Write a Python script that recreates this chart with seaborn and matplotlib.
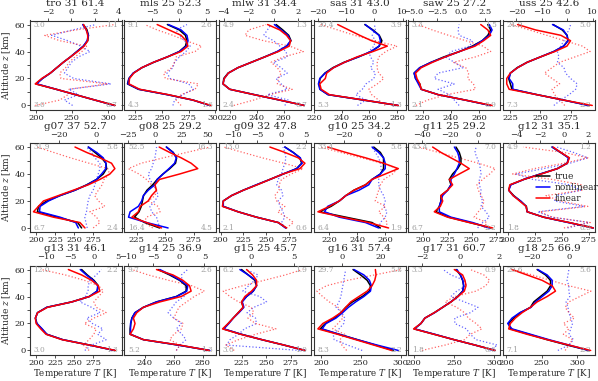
import matplotlib
matplotlib.use("Agg")
import matplotlib.pyplot as plt
import seaborn as sns
import pandas as pd

# altitude levels of every profile [km]
z_km = [0, 4, 8, 12, 16, 20, 24, 28, 32, 36, 40, 44, 48, 52, 56, 60]

# temperature profiles [K] (true / nonlinear / linear) and top-axis differences
tro_true = [309.7, 282, 255, 228, 200, 209, 220, 229, 238, 248, 257, 266, 272, 273, 271, 266]
tro_nl = [309, 282, 255, 228, 201, 209, 220, 229, 238, 248, 257, 266, 271, 273, 270, 265]
tro_lin = [310, 282, 255, 228, 199, 208, 220, 229, 238, 248, 258, 267, 272, 272, 270, 266]
tro_dnl = [0.1, -0.6, 0.6, -0.2, 3.4, 0.2, -0.6, -0.3, 0.0, 0.6, 1.6, 0.8, -0.3, -1.7, 0.1, 2.1]
tro_dlin = [-3.1, -1.0, -0.3, -0.2, 3.1, -0.9, -1.0, -0.5, -0.2, 0.3, 0.9, 1.3, -1.0, -2.3, 0.4, 3.7]

mls_true = [295.2, 279.2, 255.1, 227.9, 217.6, 218.9, 223.1, 231.1, 242.3, 255.1, 266.3, 272.1, 273.4, 272.1, 266.3, 255.1]
mls_nl = [295, 279, 255, 228, 218, 219, 223, 231, 242, 255, 266.5, 273, 274.5, 273.5, 268, 256]
mls_lin = [296, 279, 256, 229, 219, 219.5, 223.5, 231, 242, 255, 268, 274.4, 272.8, 268, 256.7, 245.5]
mls_dnl = [-1.2, -0.9, 0.6, 2.6, 1.7, -1.7, -2.3, -1.2, -0.9, 0, 1.2, 2.0, 0.9, 0, -0.6, 1.4]
mls_dlin = [0.3, -0.6, 0.3, 2.9, 3.5, -2.6, -2.9, -1.4, -0.9, -0.6, 2.9, 4.1, 1.2, -1.2, -4.1, -6.4]

mlw_true = [275.1, 256.8, 238.4, 220.0, 215.1, 215.6, 218.8, 226.1, 235.9, 245.7, 255.5, 262.2, 265.3, 263.6, 259.2, 254.3]
mlw_nl = [275, 257, 238, 220, 215, 216, 219, 226, 236, 246, 255, 262, 265, 263, 258, 253]
mlw_lin = [275, 257, 238, 220, 215, 216, 219, 226, 236, 246, 256, 264, 265, 262, 257, 248]
mlw_dnl = [0.9, 1.2, -0.5, 1.1, 0.6, 0.2, 1.1, 0.6, 0.0, 1.1, 1.0, 0.5, 0.0, -0.8, -0.5, -0.2]
mlw_dlin = [-3.2, -1.6, -0.3, 1.5, 0.3, 0.4, 0.6, 0.3, -0.2, 0.8, 2.4, 1.3, -0.8, -2.3, -2.0, -0.6]

sas_true = [280.7, 255.6, 230.0, 224.2, 223.5, 224.2, 227.7, 233.5, 241.6, 252.1, 261.4, 267.2, 269.1, 267.2, 262.6, 256.7]
sas_nl = [281, 256, 230, 224, 223, 224, 228, 234, 242, 252, 261, 267, 268, 267, 262, 257]
sas_lin = [281, 256, 231, 225, 224, 228, 229, 234, 242, 251, 262.6, 273, 261.6, 253, 245, 237]
sas_dnl = [-6, -3, -6.6, -4.3, -3, -0.2, 0.3, -1.4, -0.2, -1.4, -2, -0.2, 0.3, -0.8, 0.3, 0]
sas_dlin = [3.8, 1.5, -1, -2, 1, 3.3, 1.5, 0.9, 1, 1.5, 4, 8, 0, -7, -13, -19]

saw_true = [268, 250, 231, 219, 218, 215, 214, 218, 226, 235, 246, 255, 262, 266, 268, 266]
saw_nl = [268, 250, 231, 219, 217, 215, 214, 218, 226, 236, 246, 256, 262, 267, 269, 267]
saw_lin = [269, 250, 231, 219, 218, 216, 215, 219, 227, 236, 246, 257, 263, 268, 266, 261]
saw_dnl = [-0.2, -0.7, -1.2, -2.4, -0.7, -2.8, -2.4, 0.2, -0.7, -1.6, -1.0, 0.9, 1.2, -0.2, -0.3, -0.2]
saw_dlin = [-4.7, -3.5, -1.5, 1.5, 1.3, 0.7, 0.8, 0.5, -0.8, 1.5, 3.1, 2.3, 0.5, -1.3, -3, -4.5]

uss_true = [290.3, 269.4, 247.2, 226.4, 225, 223.6, 225, 230.6, 238.9, 250, 261.1, 269.4, 272.8, 272.2, 268.1, 260.6]
uss_nl = [290, 269, 247, 227, 227, 224, 225, 231, 239, 250, 261, 269, 273, 272, 269, 260]
uss_lin = [293, 269, 247, 224, 222, 222, 225, 231, 239, 250, 262, 272, 275, 267, 246, 231]
uss_dnl = [-5.3, -2.6, 0.7, 3.3, 3.9, 1.3, -0.7, -1.3, -3.9, -3.3, -3.9, -2.6, -1.3, -0.7, 0.7, 1.3]
uss_dlin = [-1, -3, -5, -6, -3, -6, -9, -6, -3, 3, 9, 6, -1, -8, -15, -22]

g07_true = [259.8, 254.6, 228, 201.7, 203.1, 214.0, 231.4, 251.1, 266.4, 279.5, 288.2, 292.6, 291.7, 286.0, 277.3, 268.6]
g07_nl = [255.5, 252, 231.4, 204.4, 205.2, 216.2, 231.4, 251.1, 267.2, 279.5, 286.0, 291.7, 291.7, 288.2, 279.5, 268.6]
g07_lin = [264.2, 257.6, 222.7, 196.5, 203.1, 209.6, 229.3, 248.9, 268.6, 283.8, 296.9, 303.5, 299.1, 283.8, 266.4, 251.1]
g07_dnl = [-5, -5.7, -6.3, -5.4, -5, -4.5, -3.6, -1.8, -0.9, 0, 0.9, 1.8, 1.8, -0.9, -2.7, -5.4]
g07_dlin = [-1.8, 1.8, 0, -3.6, 4.5, 1, -1, 1, 3, 4, 7, 6, -4, -14, -23, -32]

g08_true = [245, 232, 223, 227, 229, 230, 231, 234, 239, 243, 248, 254, 259, 260, 257, 251]
g08_nl = [252.5, 233.7, 217.8, 219.2, 226.4, 229.3, 230.8, 235.1, 240.9, 242.9, 248.1, 253.3, 258.2, 259.7, 256.8, 251.0]
g08_lin = [246.7, 233.7, 220.7, 226.4, 228, 235, 238, 242.3, 241, 245, 262.6, 278.5, 272.7, 264, 253.9, 244.7]
g08_dnl = [4.7, 3.1, 1.6, -3.1, -4.7, 0, 3.1, 1.6, -1.6, -4.7, -6.3, -3.1, -1.6, 0, 0.9, 1.6]
g08_dlin = [-2, -10, -8, 5, 3, -6, 0, 2, -3, -8, -15, -25, -13, 8, 30, 52]

g09_true = [271.3, 262.9, 239.3, 219.3, 202.9, 202.9, 212.0, 224.7, 239.3, 253.8, 268.4, 282.9, 288.4, 286.5, 279.3, 270.2]
g09_nl = [271, 263, 239, 219, 203, 203, 212, 225, 239, 254, 268, 283, 289, 287, 279, 270]
g09_lin = [272, 263, 239, 219, 202, 203, 212, 225, 240, 254, 268, 286.5, 292, 284.7, 270.2, 253.8]
g09_dnl = [0.7, 0, 0.7, 0.3, -0.3, -0.7, 0.3, 0, -1, -0.7, 0, 0.3, 0.7, 0.9, 0.7, 0.3]
g09_dlin = [1, 2.5, 1, -0.8, 0.7, -1, -1.4, -0.5, -0.5, 0, 2, 4.5, 0.5, -4, -8, -12]

g10_true = [256.5, 250.6, 231.8, 212.9, 221.2, 227.1, 231.8, 237.6, 245.9, 250.6, 256.5, 258.8, 258.8, 258.8, 256.5, 251.8]
g10_nl = [255.3, 245.9, 227.1, 216.5, 218.8, 227.1, 231.8, 241.2, 248.2, 250.6, 256.5, 260.0, 260.0, 258.8, 255.3, 250.6]
g10_lin = [262.4, 248.2, 229.4, 211.8, 220, 227.1, 231.8, 237.6, 245.9, 250.6, 260, 269.4, 258.8, 245.9, 231.8, 218.8]
g10_dnl = [0, 1, 3.8, 4.8, 2.9, 3.8, 2.9, 1, 0, 0, 1, 1.5, 1, 0, -1.9, -3.8]
g10_dlin = [4, 5, 3, 0, 4, -2, -1, 0, 1, 3, 8, 11, 2, -10, -22, -34]

g11_true = [269.8, 248.1, 226.1, 213.1, 216.5, 218.2, 218.2, 225.1, 228.5, 226.8, 230.2, 235.4, 238.8, 238.8, 237.1, 233.7]
g11_nl = [268, 250.9, 228.5, 216.5, 216.5, 218.2, 219.9, 225.1, 228.5, 228.5, 232, 234.7, 237.1, 237.1, 235.4, 232]
g11_lin = [271.5, 247.4, 225, 211.3, 217.5, 220, 218, 225, 230.2, 226.8, 237, 247.4, 238.8, 228.5, 218.2, 209.6]
g11_dnl = [-0.5, 3.1, 7.8, 5.4, 1.9, 3.1, 1.4, 1.9, 0.7, 0.7, 1.9, 1.4, 0.7, -0.9, -2.4, -1.6]
g11_dlin = [4, 6, -3, 0, 3, 4, 2, 0, -1, 3, 8, 12, 0, -14, -28, -42]

g12_true = [279, 256.5, 233.3, 217.9, 217.3, 211.7, 205.6, 200.9, 202.5, 214.8, 230.2, 245.7, 254.9, 256.5, 248.8, 241]
g12_nl = [279, 256, 233, 218, 217, 212, 205, 201, 203, 215, 230, 246, 255, 256, 249, 241]
g12_lin = [279, 257, 233, 218, 217, 211, 205, 201, 202, 215, 231, 246, 255, 257, 249, 242]
g12_dnl = [0.3, 2.1, -1, -2.2, 1.7, -0.8, -0.6, 1.4, 0.5, -2.6, -4, -1.7, 0.5, 2, 0.8, -0.6]
g12_dlin = [0, 2.2, -1, -2, 2, -0.3, -1.5, 1.5, 1.5, -1, -4.3, -2.5, 0, 2, 0, -3.4]

g13_true = [303.5, 270.3, 234.9, 214, 207.4, 200.9, 199.1, 201.7, 214, 246.7, 269.9, 280.3, 281.7, 276, 267.2, 259.8]
g13_nl = [303, 270, 235, 214, 208, 201, 199, 202, 214, 247, 270, 280, 281, 275, 266, 258]
g13_lin = [304, 270, 234, 213, 206, 200, 199, 202, 215, 247, 270, 283.8, 281.7, 272.9, 259.8, 242.4]
g13_dnl = [-1.9, -0.5, 2.6, 0.8, 1.9, -0.3, -1.5, 1.3, -0.5, -2.9, -1.8, -1.2, -1.2, -0.8, 0.5, 1.6]
g13_dlin = [-1, -2.2, -1, 0, 0.5, -2, 0, 2.6, 0.5, 0, 1, 2, 1, -2, -6, -11]

g14_true = [284.6, 262.9, 238.9, 229.7, 229.7, 230.2, 230.9, 233.1, 238.9, 248, 261.7, 268.6, 268.6, 264, 257.1, 249.1]
g14_nl = [285, 263, 239, 230, 230, 230, 231, 233, 239, 248, 262, 269, 269.7, 264.5, 258, 250.3]
g14_lin = [284.6, 264, 238.9, 229.7, 232, 233.1, 232, 234.3, 238.9, 250.3, 265.1, 272, 270.9, 266.3, 259.4, 248]
g14_dnl = [-0.5, 0.2, 1.4, 0.6, -0.5, 0.5, -1, -2.1, -1.3, -0.5, 1, 1.4, 1.2, 0.6, 0.5, 1.7]
g14_dlin = [-0.5, 0.2, -1.8, -1, 0.5, 0.8, -1, -0.5, 0, 1.5, 3, 5, 2.5, -2, -6, -9.2]

g15_true = [289.6, 268.2, 245.7, 224.7, 206.3, 211.4, 216.5, 221.6, 226.7, 225, 230.1, 236.9, 240.3, 238.6, 231.8, 225]
g15_nl = [289.6, 268.2, 245.7, 224.7, 207, 212.1, 216.5, 222.3, 227.4, 225.7, 230.1, 236.9, 240.3, 239.6, 231.8, 223.3]
g15_lin = [289.6, 268.2, 245.7, 224, 205.6, 211.4, 216.5, 221.6, 226.7, 225, 228.4, 235.2, 240.3, 240.3, 236.2, 230.1]
g15_dnl = [5.7, -2.9, -2.5, -1.5, -0.8, 0.6, 0.5, -0.5, 0.3, 1.8, 1, -1, -0.3, 0.4, 0.8, -0.6]
g15_dlin = [-2, -3, -1.5, 0.5, 2.9, 0.5, -0.4, 0.3, 0, -1.5, -2.5, -3.3, -1, 1.5, 4, 6]

g16_true = [290.9, 268.2, 245.5, 222.7, 198.8, 205.4, 216.5, 224.8, 231, 239.3, 251.7, 260.7, 262, 257.9, 249.6, 240.1]
g16_nl = [297.1, 270.2, 245.5, 222.7, 201.2, 206.2, 218.6, 226.9, 234.3, 243.4, 253.7, 262, 263.2, 260.7, 253.7, 241.3]
g16_lin = [288.8, 266.1, 243.4, 220.7, 195.9, 202.1, 214.5, 224.8, 231, 237.2, 247.5, 257.9, 264, 267.4, 269, 268.2]
g16_dnl = [10.6, 3, -4, -4.5, -1.5, 1, 1.5, 0, -3, -1.5, -0.5, 0, 0.5, 1, 1.5, 2]
g16_dlin = [2.5, 0, -1, 1.5, -4.8, -2, 0.5, 0, -2, -6.5, -10, -13, -8, 3, 17, 31]

g17_true = [300.8, 276, 250, 225.6, 200.8, 209.1, 214, 225.6, 236, 246.3, 254.5, 260.7, 262, 260.7, 257.9, 252.5]
g17_nl = [301, 276, 250, 226, 201, 209, 214, 226, 236, 246, 255, 261, 262, 261, 258, 253.7]
g17_lin = [301, 276, 250, 225, 200, 209, 214, 225.6, 236, 246.3, 255, 262.8, 264.9, 263.6, 260.7, 250.4]
g17_dnl = [1.5, 1.9, 0.8, 0.5, 0.3, -0.3, -0.3, 0.5, 0.9, 0.2, -0.5, -0.2, 0.3, 0.2, -0.5, -0.9]
g17_dlin = [-2, -0.8, 0.2, 0.5, 1.1, 0.8, 0.4, 0.2, -0.2, -0.8, -0.3, 0.8, 1.3, 1.5, 1.2, 0.5]

g18_true = [316.5, 285.8, 257.5, 231.6, 205.7, 203.3, 210.4, 219.8, 234, 238.7, 248.1, 257.5, 262.3, 262.3, 255.2, 243.4]
g18_nl = [316.5, 288.2, 259.9, 234, 208, 201.9, 208, 218.9, 234.9, 241, 250.5, 259.9, 264.6, 264.6, 257.5, 244.3]
g18_lin = [318.9, 288.2, 257.5, 229.2, 203.3, 205.7, 212.7, 222.2, 234, 243.4, 257.5, 269.3, 264.6, 250.5, 229.2, 208]
g18_dnl = [-6, 0, 2.5, 0, 1, 2, 1, 0, -0.5, -1.5, 0.5, 0, 0, -1, -0.5, 0]
g18_dlin = [-2, 0, 2, -3, 0, -3, 3, 0, -2, 0, 6, 12, 0, -10, -20, -30]

titles = ["tro 31 61.4", "mls 25 52.3", "mlw 31 34.4", "sas 31 43.0", "saw 25 27.2", "uss 25 42.6",
          "g07 37 52.7", "g08 25 29.2", "g09 32 47.8", "g10 25 34.2", "g11 25 29.2", "g12 31 35.1",
          "g13 31 46.1", "g14 25 36.9", "g15 25 45.7", "g16 31 57.4", "g17 31 60.7", "g18 25 66.9"]

# corner numbers: top-left, top-right, bottom-left, bottom-right
corner_text = [("3.0", "1.1", "3.0", "0.7"), ("9.1", "2.6", "4.3", "1.6"), ("4.9", "1.3", "2.4", "0.7"),
               ("20.4", "3.9", "5.3", "1.3"), ("3.3", "1.5", "2.1", "0.9"), ("24.9", "5.0", "7.3", "2.2"),
               ("31.9", "5.8", "6.7", "2.4"), ("52.5", "16.3", "16.4", "4.5"), ("13.0", "2.2", "2.1", "0.6"),
               ("33.4", "5.8", "6.4", "1.9"), ("43.4", "7.0", "6.7", "2.2"), ("4.9", "1.2", "1.8", "0.9"),
               ("12.0", "2.2", "3.0", "1.3"), ("9.7", "2.6", "5.2", "1.3"), ("6.2", "1.9", "3.0", "1.0"),
               ("29.7", "5.8", "8.3", "2.2"), ("3.3", "0.9", "1.8", "0.6"), ("29.6", "5.6", "7.1", "2.2")]

bottom_ticks = [[200, 250, 300], [225, 250, 275, 300], [220, 240, 260], [220, 240, 260, 280],
                [220, 240, 260], [225, 250, 275], [200, 225, 250, 275], [225, 250, 275],
                [200, 225, 250, 275], [220, 240, 260], [200, 225, 250, 275], [200, 225, 250, 275],
                [200, 225, 250, 275], [240, 260, 280], [225, 250, 275], [200, 250, 300],
                [200, 250, 300], [200, 250, 300]]
top_ticks = [[-2, 0, 2, 4], [-5, 0, 5], [-4, -2, 0, 2], [-20, -10, 0, 10], [-5.0, -2.5, 0.0, 2.5],
             [-20, -10, 0, 10], [-20, 0], [-25, 0, 25, 50], [-10, -5, 0, 5], [-20, 0], [-40, -20, 0],
             [-4, -2, 0, 2], [-10, -5, 0, 5], [-10, -5, 0, 5], [0, 5], [0, 20], [-2, 0, 2], [-20, 0]]

bottom_lim = [(191, 319), (214.5, 301), (212, 280), (219.5, 286.3), (209.9, 274.8), (218.9, 295.3),
              (191.3, 312.2), (214, 294.7), (198.2, 298.5), (208.7, 274.6), (184.5, 279.4), (195.7, 280.6),
              (191.3, 312.2), (225.6, 289.4), (201.9, 295.7), (190.5, 306.2), (193.4, 307.4), (195.3, 325)]
top_lim = [(-3.6, 4.3), (-10.2, 6.8), (-4.4, 3.0), (-21.5, 11), (-5.5, 4.1), (-25.3, 10.9),
           (-36, 13.4), (-29, 58), (-13, 6.1), (-37.7, 15.6), (-49.4, 15.5), (-5.1, 2.6),
           (-13.5, 5.8), (-10.7, 7.3), (-3.8, 7), (-14.7, 33.2), (-2.7, 2.05), (-35.8, 14.2)]

profiles = [
    (tro_true, tro_nl, tro_lin, tro_dnl, tro_dlin), (mls_true, mls_nl, mls_lin, mls_dnl, mls_dlin),
    (mlw_true, mlw_nl, mlw_lin, mlw_dnl, mlw_dlin), (sas_true, sas_nl, sas_lin, sas_dnl, sas_dlin),
    (saw_true, saw_nl, saw_lin, saw_dnl, saw_dlin), (uss_true, uss_nl, uss_lin, uss_dnl, uss_dlin),
    (g07_true, g07_nl, g07_lin, g07_dnl, g07_dlin), (g08_true, g08_nl, g08_lin, g08_dnl, g08_dlin),
    (g09_true, g09_nl, g09_lin, g09_dnl, g09_dlin), (g10_true, g10_nl, g10_lin, g10_dnl, g10_dlin),
    (g11_true, g11_nl, g11_lin, g11_dnl, g11_dlin), (g12_true, g12_nl, g12_lin, g12_dnl, g12_dlin),
    (g13_true, g13_nl, g13_lin, g13_dnl, g13_dlin), (g14_true, g14_nl, g14_lin, g14_dnl, g14_dlin),
    (g15_true, g15_nl, g15_lin, g15_dnl, g15_dlin), (g16_true, g16_nl, g16_lin, g16_dnl, g16_dlin),
    (g17_true, g17_nl, g17_lin, g17_dnl, g17_dlin), (g18_true, g18_nl, g18_lin, g18_dnl, g18_dlin),
]

sns.set_theme(style="ticks")
plt.rcParams["font.family"] = ["DejaVu Serif"]
plt.rcParams["mathtext.fontset"] = "dejavuserif"
plt.rcParams["axes.unicode_minus"] = True

W, H = 598, 381
fig = plt.figure(figsize=(W / 100, H / 100), dpi=100)

left0, pitch, ax_w, ax_h = 29.5, 94.7, 92, 89
row_top = [20.5, 143.0, 265.5]
frame = "#333333"
gray_txt = "#a0a0a0"

for k, (t_true, t_nl, t_lin, d_nl, d_lin) in enumerate(profiles):
    r, c = divmod(k, 6)
    ax = fig.add_axes([(left0 + c * pitch) / W, 1 - (row_top[r] + ax_h) / H, ax_w / W, ax_h / H])
    ax2 = ax.twiny()
    df = pd.DataFrame({"z": z_km, "true": t_true, "nonlinear": t_nl, "linear": t_lin,
                       "d_nl": d_nl, "d_lin": d_lin})

    # difference profiles on the top axis
    sns.lineplot(data=df, x="d_nl", y="z", sort=False, estimator=None, color="blue",
                 lw=0.9, ls=":", alpha=0.6, legend=False, ax=ax2)
    sns.lineplot(data=df, x="d_lin", y="z", sort=False, estimator=None, color="red",
                 lw=0.9, ls=":", alpha=0.6, legend=False, ax=ax2)
    # temperature profiles on the bottom axis
    for col, color in (("true", "black"), ("nonlinear", "blue"), ("linear", "red")):
        sns.lineplot(data=df, x=col, y="z", sort=False, estimator=None, color=color,
                     lw=1.1, label=col, legend=False, ax=ax)

    ax.set_zorder(ax2.get_zorder() + 1)
    ax.patch.set_visible(False)

    ax.set_xlim(bottom_lim[k])
    ax2.set_xlim(top_lim[k])
    ax.set_ylim(-3, 63)
    ax.set_xticks(bottom_ticks[k])
    ax2.set_xticks(top_ticks[k])
    ax.set_yticks(range(0, 61, 10))
    if c == 0:
        ax.set_yticklabels(["0", "", "20", "", "40", "", "60"])
        ax.set_ylabel(r"Altitude $z$ [km]", fontsize=6.5, labelpad=1)
    else:
        ax.set_yticklabels([])
        ax.set_ylabel("")
    if r == 2:
        ax.set_xlabel(r"Temperature $T$ [K]", fontsize=6.3, labelpad=0)
    else:
        ax.set_xlabel("")
    ax2.set_xlabel("")
    ax2.set_ylabel("")

    for a in (ax, ax2):
        a.tick_params(labelsize=6, length=2, width=0.6, pad=1.0, color=frame)
    for s in ax.spines.values():
        s.set_color(frame)
        s.set_linewidth(0.8)
    for s in ax2.spines.values():
        s.set_visible(False)

    ax2.set_title(titles[k], fontsize=7.5, pad=1.5)

    tl, tr, bl, br = corner_text[k]
    kw = dict(transform=ax.transAxes, fontsize=5.3, color=gray_txt, va="center")
    ax.text(0.04, 0.955, tl, ha="left", **kw)
    ax.text(0.96, 0.955, tr, ha="right", **kw)
    ax.text(0.04, 0.05, bl, ha="left", **kw)
    ax.text(0.96, 0.05, br, ha="right", **kw)

    if k == 11:
        ax.legend(loc="center left", bbox_to_anchor=(0.28, 0.5), frameon=False, fontsize=6.5,
                  handlelength=1.5, handletextpad=0.6, labelspacing=0.25, borderpad=0.3)

fig.savefig("out.png", dpi=100)
